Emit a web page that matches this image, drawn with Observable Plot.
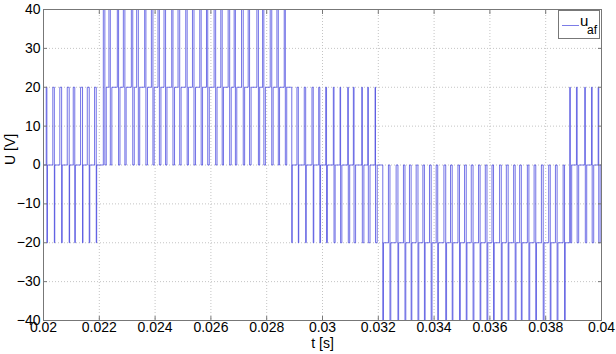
<!DOCTYPE html>
<html><head><meta charset="utf-8">
<script src="https://cdn.jsdelivr.net/npm/d3@7"></script>
<script src="https://cdn.jsdelivr.net/npm/@observablehq/plot@0.6"></script>
<style>
body{margin:0;background:#fff;}
#wrap{position:relative;width:616px;height:354px;background:#fff;}
#legend{position:absolute;left:558px;top:10px;}
</style></head><body>
<div id="wrap"></div>
<script>
// axis ticks
const xTicks = [0.02,0.022,0.024,0.026,0.028,0.03,0.032,0.034,0.036,0.038,0.04];
const yTicks = [-40,-30,-20,-10,0,10,20,30,40];

// waveform segments: base level and number of switching periods in each
const segmentBase = [0, 20, 0, -20, 0];
const segmentPulses = [8, 27, 13, 27, 5];
const stepV = 20; // one level step [V]

// start of each switching period [ms]
const pulseTimeMs = [
  20.097,20.334,20.585,20.851,21.066,21.329,21.569,21.831,
  22.144,22.345,22.646,22.862,23.149,23.339,23.626,23.867,24.104,24.320,24.596,24.822,25.099,25.339,25.601,25.842,26.115,26.355,26.618,26.833,27.099,27.336,27.648,27.853,28.126,28.366,28.628,
  28.844,29.084,29.347,29.623,29.864,30.115,30.388,30.629,30.905,31.106,31.408,31.623,31.885,
  32.101,32.363,32.639,32.901,33.117,33.357,33.598,33.835,34.075,34.352,34.589,34.855,35.092,35.332,35.594,35.835,36.075,36.348,36.589,36.851,37.067,37.343,37.584,37.846,38.108,38.349,38.625,
  38.862,39.102,39.400,39.641,39.881
];
// width of the pulse one level up [µs]
const upWidthUs = [
  25,55,65,70,55,70,70,60,
  55,50,45,55,50,60,45,55,50,55,45,60,50,55,50,45,55,50,55,45,60,50,55,45,55,50,40,
  55,50,50,45,40,30,25,20,20,25,20,20,15,
  60,55,65,55,60,65,55,60,55,65,60,55,60,65,55,60,55,60,65,55,60,55,60,65,55,60,50,
  20,25,20,25,20
];
// width of the pulse one level down [µs]
const downWidthUs = [
  20,15,20,15,20,15,20,15,
  50,55,50,45,55,50,55,45,55,50,55,50,45,55,50,55,50,45,55,50,50,55,45,55,50,45,50,
  15,15,20,20,25,30,40,45,50,55,55,60,60,
  25,30,25,30,25,30,25,30,25,30,25,30,25,30,25,30,25,30,25,30,25,30,25,30,25,30,25,
  50,55,50,55,50
];

// build the step waveform table
const pts = [{t: 0.02, v: segmentBase[0]}];
let k = 0;
segmentBase.forEach((b, s) => {
  for (let i = 0; i < segmentPulses[s]; i++, k++) {
    const t0 = pulseTimeMs[k] / 1000, wu = upWidthUs[k] / 1e6, wd = downWidthUs[k] / 1e6;
    pts.push({t: t0, v: b + stepV}, {t: t0 + wu, v: b - stepV}, {t: t0 + wu + wd, v: b});
  }
});
pts.push({t: 0.04, v: pts[pts.length - 1].v});

const font = '"Liberation Sans", Arial, sans-serif';
const lineColor = "#4444dd";
const gridStyle = {stroke: "#c4c4c4", strokeOpacity: 1, strokeDasharray: "1,2"};

const chart = Plot.plot({
  width: 616, height: 354,
  marginLeft: 43, marginRight: 15, marginTop: 9, marginBottom: 34,
  style: {fontFamily: font, fontSize: "14px", color: "#000", background: "#fff", overflow: "visible"},
  x: {domain: [0.02, 0.04]},
  y: {domain: [-40, 40]},
  marks: [
    Plot.gridX(xTicks, gridStyle),
    Plot.gridY(yTicks, gridStyle),
    Plot.line(pts, {x: "t", y: "v", curve: "step-after", stroke: lineColor, strokeWidth: 0.75}),
    Plot.frame({stroke: "#777"}),
    Plot.axisX(xTicks, {anchor: "bottom", tickSize: -4, tickPadding: 6, stroke: "#777", tickFormat: d => String(+d.toFixed(3)), label: null}),
    Plot.axisX(xTicks, {anchor: "top", tickSize: -4, stroke: "#777", tickFormat: () => "", label: null}),
    Plot.axisY(yTicks, {anchor: "left", tickSize: -4, tickPadding: 7, stroke: "#777", label: null}),
    Plot.axisY(yTicks, {anchor: "right", tickSize: -4, stroke: "#777", tickFormat: () => "", label: null}),
    Plot.text(["U [V]"], {frameAnchor: "left", dx: -29, rotate: -90, lineAnchor: "bottom", fontSize: 14, fill: "#000"}),
    Plot.text(["t [s]"], {frameAnchor: "bottom", dy: 27, lineAnchor: "bottom", fontSize: 14, fill: "#000"})
  ]
});
const wrap = document.getElementById("wrap");
wrap.appendChild(chart);

// legend
const lg = document.createElement("div");
lg.id = "legend";
lg.innerHTML = `<svg width="42" height="29" style="font-family:${font.replace(/"/g, "'")}">
  <rect x="0.5" y="0.5" width="41" height="28" fill="#fff" stroke="#777"/>
  <line x1="4" x2="21" y1="15.5" y2="15.5" stroke="${lineColor}" stroke-width="0.7"/>
  <text x="22" y="16" font-size="15" fill="#000">u</text>
  <text x="29" y="24" font-size="12" fill="#000">af</text>
</svg>`;
wrap.appendChild(lg);
</script>
</body></html>
